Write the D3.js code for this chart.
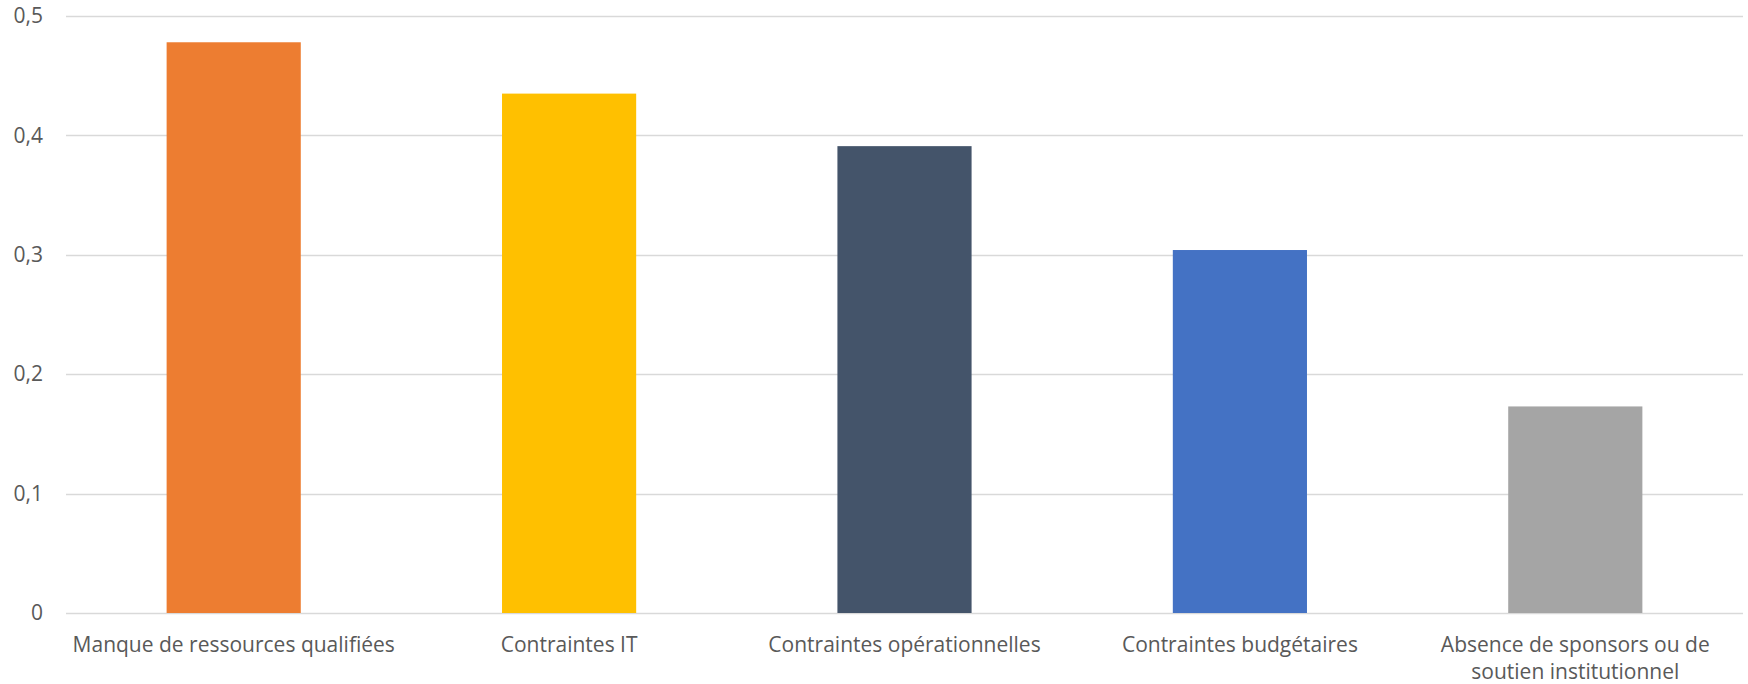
<!DOCTYPE html>
<html><head><meta charset="utf-8">
<script src="https://cdn.jsdelivr.net/npm/d3@7"></script>
<style>body{margin:0;background:#fff;} svg{display:block;}</style>
</head><body>
<svg id="c" width="1748" height="684"></svg>
<script>
const categories = ["Manque de ressources qualifiées","Contraintes IT","Contraintes opérationnelles","Contraintes budgétaires","Absence de sponsors ou de soutien institutionnel"];
const values = [0.478, 0.435, 0.391, 0.304, 0.173];
const colors = ["#ED7D31","#FFC000","#44546A","#4472C4","#A5A5A5"];
const yTicks = [0, 0.1, 0.2, 0.3, 0.4, 0.5];
const yTickLabels = ["0","0,1","0,2","0,3","0,4","0,5"];

const svg = d3.select("#c");
const font = "'Open Sans', sans-serif";
const fs = 21;
const x = d3.scaleBand().domain(categories).range([66, 1743]).paddingInner(0.6).paddingOuter(0.3);
const y = d3.scaleLinear().domain([0, 0.5]).range([613, 16]);

// gridlines
svg.append("g").selectAll("line").data(yTicks).join("line")
  .attr("x1", 66).attr("x2", 1743)
  .attr("y1", d => Math.round(y(d)) + 0.5).attr("y2", d => Math.round(y(d)) + 0.5)
  .attr("stroke", "#D9D9D9").attr("stroke-width", 1.3);

// bars
svg.append("g").selectAll("rect").data(values).join("rect")
  .attr("x", (d,i) => x(categories[i])).attr("width", x.bandwidth())
  .attr("y", d => y(d)).attr("height", d => y(0) - y(d))
  .attr("fill", (d,i) => colors[i]);

// y axis labels
const yAxis = d3.axisLeft(y).tickValues(yTicks).tickFormat((d,i) => yTickLabels[i]).tickSize(0).tickPadding(0);
const ya = svg.append("g").attr("transform", "translate(43,0)").call(yAxis);
ya.select(".domain").remove();
ya.selectAll("text").attr("font-family", font).attr("font-size", fs).attr("fill", "#595959");

// x axis labels
const xAxis = d3.axisBottom(x).tickSize(0).tickPadding(0);
const xa = svg.append("g").attr("transform", "translate(0,613)").call(xAxis);
xa.select(".domain").remove();
xa.selectAll("text").attr("font-family", font).attr("font-size", fs).attr("fill", "#595959")
  .attr("dy", null).attr("y", 39)
  .each(function(d){
    const t = d3.select(this);
    const words = d.split(" ");
    t.text(null);
    let line = [], lines = [];
    const tmp = t.append("tspan");
    words.forEach(w => {
      line.push(w); tmp.text(line.join(" "));
      if (tmp.node().getComputedTextLength() > x.step() - 10 && line.length > 1) {
        line.pop(); lines.push(line.join(" ")); line = [w];
      }
    });
    lines.push(line.join(" "));
    tmp.remove();
    lines.forEach((l, k) => t.append("tspan").attr("x", 0).attr("y", 39 + k*27).text(l));
  });
</script>
</body></html>
